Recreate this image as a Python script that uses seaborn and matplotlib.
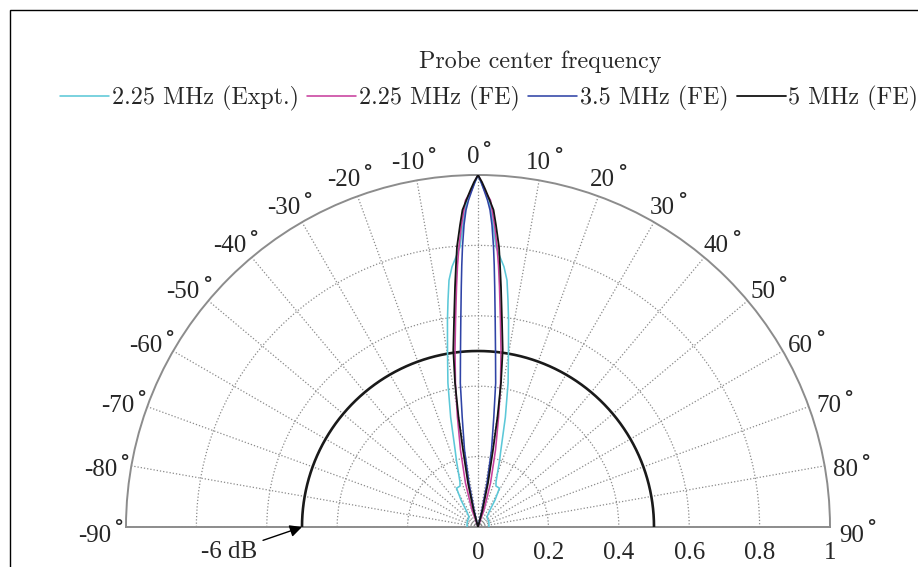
import numpy as np
import matplotlib
matplotlib.use("Agg")
import matplotlib.pyplot as plt
import matplotlib.transforms as mtransforms
import seaborn as sns
from matplotlib.patches import Rectangle
from matplotlib.font_manager import FontProperties

# ---------------- data ----------------
legend_title = "Probe center frequency"
series_labels = ["2.25 MHz (Expt.)", "2.25 MHz (FE)", "3.5 MHz (FE)", "5 MHz (FE)"]
series_colors = ["#5cc8d8", "#c8409e", "#2f43a6", "#141414"]

# 2.25 MHz experiment (angle in degrees, normalized amplitude)
expt225_theta = [-90, -65.6, -42, -36.3, -32.2, -28.9, -23.7, -21.8, -17.9, -16.6, -14.0,
                 -11.8, -9.78, -8.4, -7.53, -6.7, -5.7, -3.68, -2.84, -1.98, -1.1, 0,
                 1.1, 1.98, 2.84, 3.68, 5.7, 6.7, 7.53, 8.4, 9.78, 11.8, 14.0, 16.6, 17.9,
                 21.8, 23.7, 28.9, 32.2, 36.3, 42, 65.6, 90]
expt225_r = [0.031, 0.034, 0.038, 0.053, 0.091, 0.126, 0.127, 0.138, 0.200, 0.227, 0.321,
             0.418, 0.510, 0.594, 0.650, 0.706, 0.743, 0.797, 0.859, 0.929, 0.957, 1.0,
             0.957, 0.929, 0.859, 0.797, 0.743, 0.706, 0.650, 0.594, 0.510, 0.418, 0.321, 0.227, 0.200,
             0.138, 0.127, 0.126, 0.091, 0.053, 0.038, 0.034, 0.031]

# 2.25 MHz finite element
fe225_theta = [-22, -19.4, -15.9, -12.8, -10.6, -8.9, -7.4, -6.2, -5.12, -4.47, -3.88, -3.13, -2.19,
               -1.1, -0.58, 0,
               0.58, 1.1, 2.19, 3.13, 3.88, 4.47, 5.12, 6.2, 7.4, 8.9, 10.6, 12.8, 15.9, 19.4, 22]
fe225_r = [0.0, 0.051, 0.130, 0.225, 0.318, 0.414, 0.507, 0.590, 0.684, 0.746, 0.798, 0.859, 0.929,
           0.957, 0.980, 1.0,
           0.980, 0.957, 0.929, 0.859, 0.798, 0.746, 0.684, 0.590, 0.507, 0.414, 0.318, 0.225, 0.130,
           0.051, 0.0]

# 3.5 MHz finite element
fe35_theta = [-14.5, -13.2, -11.6, -9.94, -8.17, -7.0, -5.65, -4.75, -3.98, -3.54, -3.17, -2.65, -2.17,
              -1.66, -1.02, -0.5, 0,
              0.5, 1.02, 1.66, 2.17, 2.65, 3.17, 3.54, 3.98, 4.75, 5.65, 7.0, 8.17, 9.94, 11.6, 13.2, 14.5]
fe35_r = [0.0, 0.050, 0.128, 0.222, 0.316, 0.412, 0.505, 0.590, 0.684, 0.746, 0.797, 0.859, 0.901,
          0.929, 0.957, 0.980, 1.0,
          0.980, 0.957, 0.929, 0.901, 0.859, 0.797, 0.746, 0.684, 0.590, 0.505, 0.412, 0.316, 0.222,
          0.128, 0.050, 0.0]

# 5 MHz finite element
fe5_theta = [-16.5, -14.8, -12.8, -11.0, -10.05, -9.07, -7.94, -6.6, -5.47, -4.8, -4.29, -3.41, -2.8,
             -1.64, -1.27, -0.66, 0,
             0.66, 1.27, 1.64, 2.8, 3.41, 4.29, 4.8, 5.47, 6.6, 7.94, 9.07, 10.05, 11.0, 12.8, 14.8, 16.5]
fe5_r = [0.0, 0.050, 0.128, 0.223, 0.317, 0.414, 0.508, 0.592, 0.685, 0.747, 0.798, 0.859, 0.902,
         0.944, 0.958, 0.980, 1.0,
         0.980, 0.958, 0.944, 0.902, 0.859, 0.798, 0.747, 0.685, 0.592, 0.508, 0.414, 0.317, 0.223,
         0.128, 0.050, 0.0]

minus6db_level = 0.5
minus6db_label = "-6 dB"
angle_ticks = list(range(-90, 91, 10))
r_ticks = [0, 0.2, 0.4, 0.6, 0.8, 1]
r_tick_labels = ["0", "0.2", "0.4", "0.6", "0.8", "1"]

# ---------------- style ----------------
sns.set_style("white")
plt.rcParams["font.family"] = ["Liberation Serif", "DejaVu Serif"]
plt.rcParams["mathtext.fontset"] = "stix"
plt.rcParams["axes.unicode_minus"] = False
cm_font = FontProperties(family=["cmr10", "DejaVu Serif"], size=17.3)

fig = plt.figure(figsize=(9.18, 5.67), dpi=100)
# polar wedge (half disc) is fitted at half the axes box size; centre at (478, 527) px, radius 352 px
ax = fig.add_axes([-226 / 918, -136 / 567, 1408 / 918, 704 / 567], projection="polar")
ax.set_theta_zero_location("N")
ax.set_theta_direction(-1)
ax.set_thetamin(-90)
ax.set_thetamax(90)
ax.set_rlim(0, 1)

ax.set_xticks(np.deg2rad(angle_ticks))
ax.set_xticklabels([])
ax.set_yticks([0.2, 0.4, 0.6, 0.8])
ax.set_yticklabels([])
ax.tick_params(length=0)
ax.grid(True, color="#8a8a8a", linestyle=(0, (1, 1.6)), linewidth=0.9)
for sp in ax.spines.values():
    sp.set_color("#8c8c8c")
    sp.set_linewidth(1.4)

# -6 dB reference circle
arc_theta = np.deg2rad(np.arange(-90, 90.5, 0.5))
ax.plot(arc_theta, np.full_like(arc_theta, minus6db_level), color="#1a1a1a", lw=1.9, zorder=3)

curves = [(expt225_theta, expt225_r), (fe225_theta, fe225_r), (fe35_theta, fe35_r), (fe5_theta, fe5_r)]
for (th, rr), lab, col in zip(curves, series_labels, series_colors):
    sns.lineplot(x=np.deg2rad(th), y=rr, ax=ax, sort=False, estimator=None,
                 color=col, lw=1.15 if col != "#141414" else 1.3, label=lab, zorder=4)
if ax.get_legend() is not None:
    ax.get_legend().remove()
ax.set_xlabel("")
ax.set_ylabel("")

# angle labels: "number + raised ring" centred on the spoke direction
num_shift = ax.transData + mtransforms.ScaledTranslation(-0.05, -0.085, fig.dpi_scale_trans)
for a in angle_ticks:
    t = ax.text(np.deg2rad(a), 1.075, f"{a}", ha="center", va="center", fontsize=18,
                transform=num_shift, clip_on=False)
    ax.annotate(r"$\circ$", xy=(1, 1), xycoords=t, xytext=(2.2, 2.6), textcoords="offset points",
                ha="left", va="center", fontsize=17, annotation_clip=False)

# radial labels along the baseline
for rv, lab in zip(r_ticks, r_tick_labels):
    ax.annotate(lab, xy=(np.pi / 2, rv), xytext=(0, -11), textcoords="offset points",
                ha="center", va="top", fontsize=18, annotation_clip=False)

# -6 dB annotation
ax.annotate(minus6db_label, xy=(-np.pi / 2, minus6db_level), xytext=(229, 567 - 552),
            textcoords="figure pixels", ha="center", va="center", fontsize=18,
            annotation_clip=False,
            arrowprops=dict(arrowstyle="-|>", color="black", lw=1.0, mutation_scale=18,
                            shrinkA=2, shrinkB=0))

# legend
handles, labels = ax.get_legend_handles_labels()
fig.legend(handles, labels, loc="center left", bbox_to_anchor=(60 / 918, 1 - 98 / 567),
           bbox_transform=fig.transFigure, ncol=4, frameon=False, prop=cm_font,
           handlelength=2.05, handletextpad=0.1, columnspacing=0.35,
           borderpad=0, borderaxespad=0)
fig.text(540 / 918, 1 - 62 / 567, legend_title, ha="center", va="center", fontproperties=cm_font)

# outer frame (cropped at right/bottom as in the reference)
fig.add_artist(Rectangle((9.5 / 918, -1), 2, 2 - 9.5 / 567, transform=fig.transFigure,
                         fill=False, ec="black", lw=1.0))

fig.savefig("out.png", dpi=100)
